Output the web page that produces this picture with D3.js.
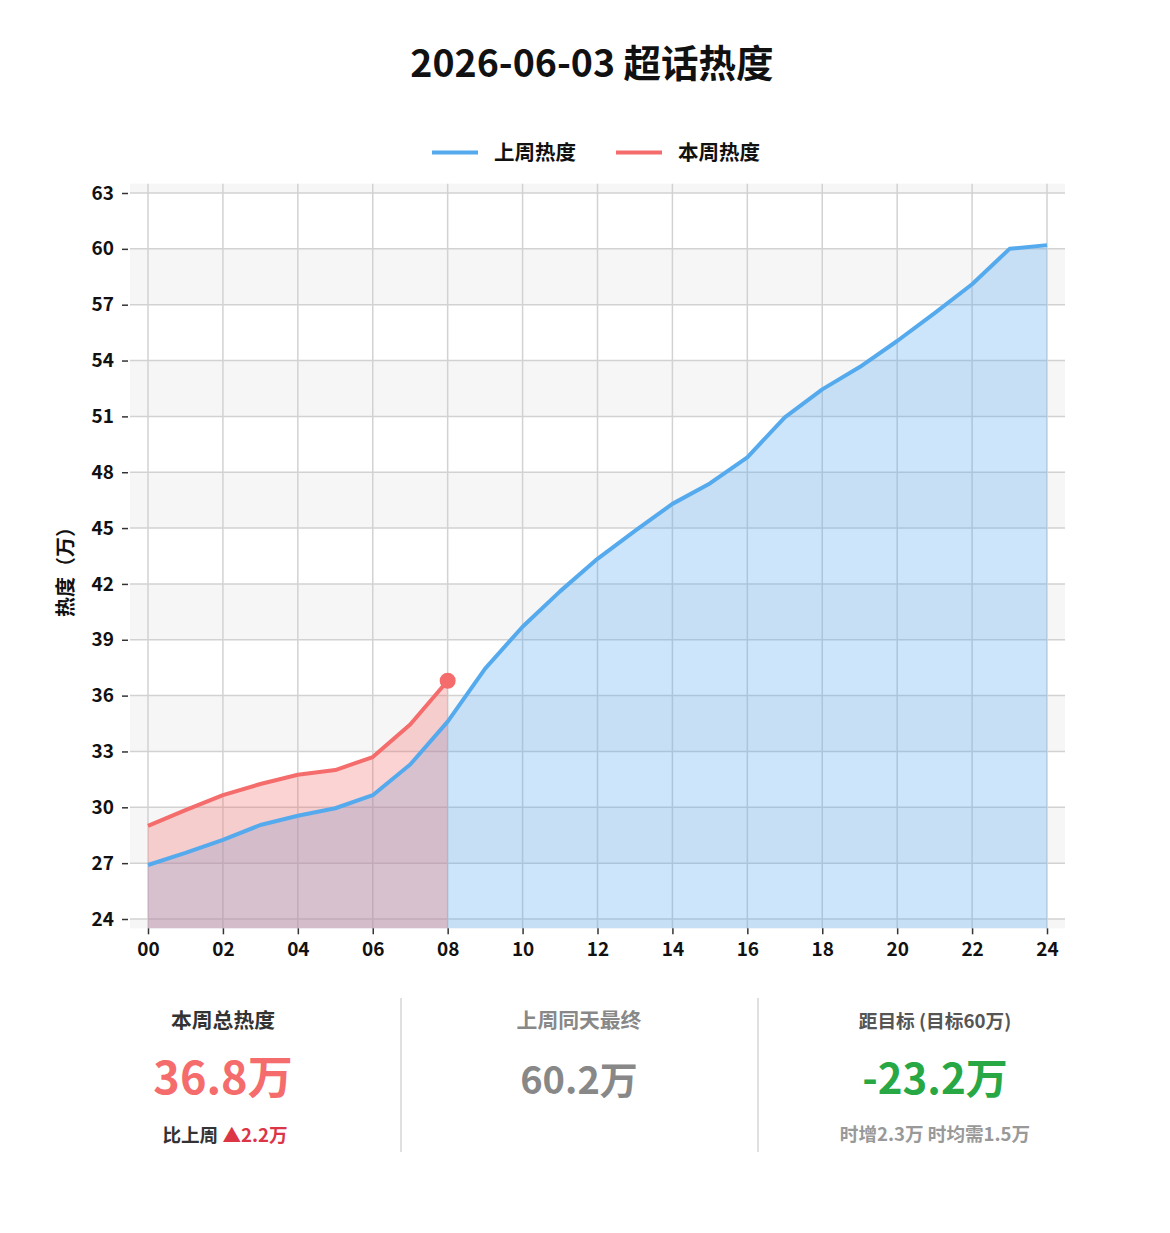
<!DOCTYPE html>
<html><head><meta charset="utf-8">
<script src="https://cdn.jsdelivr.net/npm/d3@7"></script>
<style>
html,body{margin:0;padding:0;background:#fff;}
svg{display:block;font-family:"Noto Sans CJK SC","Noto Sans",sans-serif;}
</style></head>
<body>
<svg id="c" width="1170" height="1233"></svg>
<script>
// ---- data ----
const titleText = "2026-06-03 超话热度";
const seriesNames = ["上周热度", "本周热度"];
const hours = [0,1,2,3,4,5,6,7,8,9,10,11,12,13,14,15,16,17,18,19,20,21,22,23,24];
const lastWeek = [26.9,27.55,28.25,29.05,29.55,29.95,30.65,32.3,34.6,37.45,39.7,41.6,43.35,44.85,46.3,47.4,48.8,50.95,52.45,53.65,55.05,56.55,58.1,60.0,60.2];
const thisWeekHours = [0,1,2,3,4,5,6,7,8];
const thisWeek = [29.0,29.85,30.65,31.25,31.75,32.0,32.7,34.45,36.8];
const yTicks = [24,27,30,33,36,39,42,45,48,51,54,57,60,63];
const xTicks = [0,2,4,6,8,10,12,14,16,18,20,22,24];
const xTickLabels = ["00","02","04","06","08","10","12","14","16","18","20","22","24"];
const yAxisTitle = "热度（万）";
const statTitles = ["本周总热度", "上周同天最终", "距目标 (目标60万)"];
const statValues = ["36.8万", "60.2万", "-23.2万"];
const compareLabel = "比上周 ";
const compareValue = "▲2.2万";
const paceText = "时增2.3万 时均需1.5万";

// ---- layout ----
const svg = d3.select("#c");
const blue = "#55aaee", red = "#f56c6c";
const x = d3.scaleLinear().domain([0,24]).range([148,1047]);
const y = d3.scaleLinear().domain([24,63]).range([919,193]);
const xMin = x.invert(130), xMax = x.invert(1065);
const yBot = 23.5, yTop = 63.5;

// title
svg.append("text").attr("x",592).attr("y",77).attr("text-anchor","middle")
  .attr("font-size",37.5).attr("font-weight",700).attr("fill","#111").text(titleText);

// legend
const lg = svg.append("g");
[[432,494,blue],[616,678,red]].forEach((d,i)=>{
  lg.append("line").attr("x1",d[0]).attr("x2",d[0]+46).attr("y1",152.5).attr("y2",152.5)
    .attr("stroke",d[2]).attr("stroke-width",4);
  lg.append("text").attr("x",d[1]).attr("y",159.5).attr("font-size",20.5).attr("font-weight",700)
    .attr("fill","#111").text(seriesNames[i]);
});

// bands
const bandEdges = [yBot].concat(yTicks).concat([yTop]);
const g = svg.append("g");
for (let i=0;i<bandEdges.length-1;i++){
  if (i%2===0){
    g.append("rect").attr("x",x(xMin)).attr("width",x(xMax)-x(xMin))
      .attr("y",y(bandEdges[i+1])).attr("height",y(bandEdges[i])-y(bandEdges[i+1]))
      .attr("fill","#f6f6f6");
  }
}
// grid
g.selectAll(".hg").data(yTicks).join("line")
  .attr("x1",x(xMin)).attr("x2",x(xMax)).attr("y1",d=>y(d)).attr("y2",d=>y(d))
  .attr("stroke","#d2d2d2").attr("stroke-width",1.5);
g.selectAll(".vg").data(xTicks).join("line")
  .attr("x1",d=>x(d)).attr("x2",d=>x(d)).attr("y1",y(yTop)).attr("y2",y(yBot))
  .attr("stroke","#d2d2d2").attr("stroke-width",1.5);

// areas & lines
const curve = d3.curveLinear;
const area = d3.area().x(d=>x(d[0])).y0(y(yBot)).y1(d=>y(d[1])).curve(curve);
const line = d3.line().x(d=>x(d[0])).y(d=>y(d[1])).curve(curve);
const lw = hours.map((h,i)=>[h,lastWeek[i]]);
const tw = thisWeekHours.map((h,i)=>[h,thisWeek[i]]);
g.append("path").attr("d",area(lw)).attr("fill",blue).attr("fill-opacity",0.3);
g.append("path").attr("d",area(tw)).attr("fill",red).attr("fill-opacity",0.3);
g.append("path").attr("d",line(lw)).attr("fill","none").attr("stroke",blue).attr("stroke-width",4).attr("stroke-linejoin","round");
g.append("path").attr("d",line(tw)).attr("fill","none").attr("stroke",red).attr("stroke-width",4).attr("stroke-linejoin","round");
const last = tw[tw.length-1];
g.append("circle").attr("cx",x(last[0])).attr("cy",y(last[1])).attr("r",8).attr("fill",red);

// axes
const yAxis = d3.axisLeft(y).tickValues(yTicks).tickSize(6).tickPadding(8);
const ya = svg.append("g").attr("transform","translate(128,0)").call(yAxis);
ya.select(".domain").remove();
ya.selectAll("line").attr("stroke","#333").attr("stroke-width",1.5);
ya.selectAll("text").attr("font-size",19).attr("font-weight",700).attr("fill","#111")
  .attr("font-family",'"Noto Sans CJK SC",sans-serif');

const xAxis = d3.axisBottom(x).tickValues(xTicks).tickFormat((d,i)=>xTickLabels[i]).tickSize(6).tickPadding(8);
const xa = svg.append("g").attr("transform",`translate(0,${y(yBot)})`).call(xAxis);
xa.select(".domain").remove();
xa.selectAll("line").attr("stroke","#333").attr("stroke-width",1.5);
xa.selectAll("text").attr("font-size",19).attr("font-weight",700).attr("fill","#111")
  .attr("font-family",'"Noto Sans CJK SC",sans-serif');

svg.append("text").attr("transform","translate(73,567) rotate(-90)").attr("text-anchor","middle")
  .attr("font-size",20).attr("font-weight",700).attr("fill","#111").text(yAxisTitle);

// stats panel
const cols = [223, 579, 935];
const titleColors = ["#333","#888","#555"];
const titleSizes = [20.8, 20.8, 18.7];
const valueColors = [red,"#888","#28a745"];
const valueSizes = [45, 38, 42];
[401,758].forEach(xx=>{
  svg.append("line").attr("x1",xx).attr("x2",xx).attr("y1",998).attr("y2",1152)
    .attr("stroke","#e0e0e0").attr("stroke-width",2);
});
cols.forEach((cx,i)=>{
  svg.append("text").attr("x",cx).attr("y",1028).attr("text-anchor","middle")
    .attr("font-size",titleSizes[i]).attr("font-weight",700).attr("fill",titleColors[i]).text(statTitles[i]);
  svg.append("text").attr("x",cx).attr("y",1094).attr("text-anchor","middle")
    .attr("font-size",valueSizes[i]).attr("font-weight",700).attr("fill",valueColors[i]).text(statValues[i]);
});
const cmp = svg.append("text").attr("x",cols[0]+2).attr("y",1142).attr("text-anchor","middle")
  .attr("font-size",18.6).attr("font-weight",700);
cmp.append("tspan").attr("fill","#333").text(compareLabel);
cmp.append("tspan").attr("fill","#dc3545").text(compareValue);
svg.append("text").attr("x",cols[2]).attr("y",1141).attr("text-anchor","middle")
  .attr("font-size",18.6).attr("font-weight",700).attr("fill","#999").text(paceText);
</script>
</body></html>
